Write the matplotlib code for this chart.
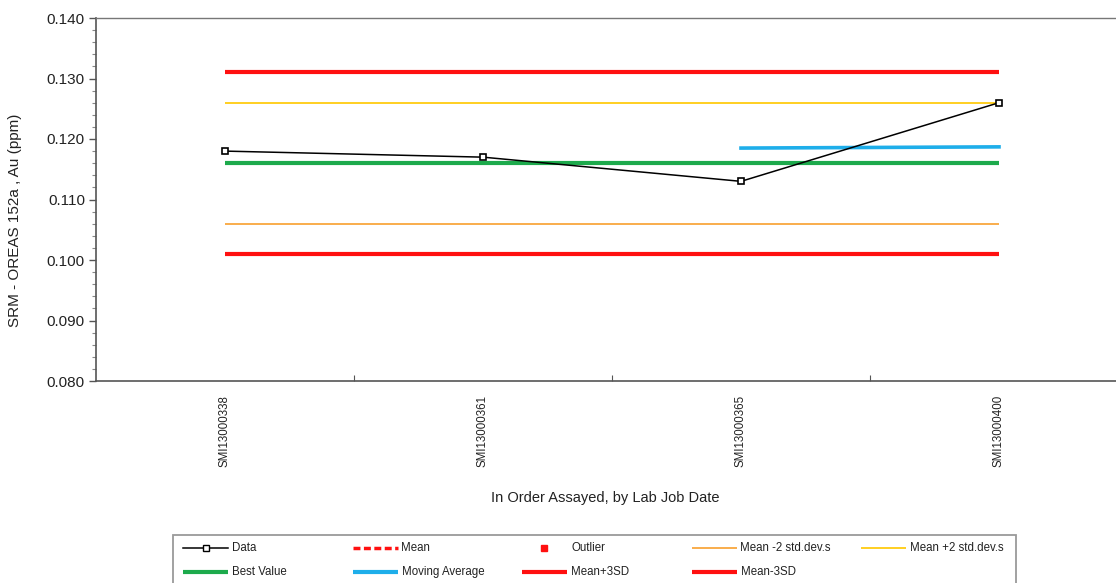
import matplotlib
matplotlib.use("Agg")
import matplotlib.pyplot as plt
from matplotlib.lines import Line2D
from matplotlib.patches import Rectangle
from matplotlib.ticker import MultipleLocator, FixedLocator, NullFormatter

plt.rcParams['font.family'] = ['Liberation Sans', 'DejaVu Sans']

# Assay data for the standard, in order assayed
job_ids = ["SMI13000338", "SMI13000361", "SMI13000365", "SMI13000400"]
au_ppm = [0.118, 0.117, 0.113, 0.126]

# Control limits
best_value = 0.116
mean_minus_2sd = 0.106
mean_plus_2sd = 0.126
mean_plus_3sd = 0.131
mean_minus_3sd = 0.101

# Moving average (defined from the third job onward)
ma_idx = [2, 3]
ma_values = [0.1185, 0.1187]

W, H = 1116, 583
fig = plt.figure(figsize=(W / 100, H / 100), dpi=100)
ax = fig.add_axes([96 / W, 1 - 381 / H, 1032 / W, 363 / H])

RED, YEL, ORA, GRN, BLU = '#FF1010', '#FFCC10', '#F9A73E', '#1DAA4C', '#1EAEEA'

x = list(range(len(job_ids)))
x_span = [x[0], x[-1]]

def hline(value, color, lw, z=2):
    ax.plot(x_span, [value, value], color=color, lw=lw, solid_capstyle='butt', zorder=z)

hline(mean_plus_3sd, RED, 3.0)
hline(mean_minus_3sd, RED, 3.0)
hline(mean_plus_2sd, YEL, 1.3)
hline(mean_minus_2sd, ORA, 1.3)
hline(best_value, GRN, 3.0)
ax.plot(ma_idx, ma_values, color=BLU, lw=2.6, zorder=3)
ax.plot(x, au_ppm, color='black', lw=1.1, marker='s', ms=5,
        mfc='white', mec='black', mew=1.2, zorder=4)

ax.set_xlim(-0.5, len(job_ids) - 0.5)
ax.set_ylim(0.080, 0.140)

ax.yaxis.set_major_locator(MultipleLocator(0.010))
ax.yaxis.set_minor_locator(MultipleLocator(0.002))
ax.yaxis.set_major_formatter(plt.FuncFormatter(lambda v, p: f"{v:.3f}"))
ax.tick_params(axis='y', which='major', direction='out', length=5, width=1,
               color='#555555', labelsize=11, pad=3, labelcolor='#222222')
ax.tick_params(axis='y', which='minor', direction='out', length=3, width=0.8,
               color='#888888')

ax.xaxis.set_major_locator(FixedLocator([i + 0.5 for i in x[:-1]]))
ax.xaxis.set_major_formatter(NullFormatter())
ax.xaxis.set_minor_locator(FixedLocator(x))
ax.set_xticklabels(job_ids, minor=True, rotation=90, fontsize=8.3, color='#222222')
ax.tick_params(axis='x', which='major', direction='in', length=4, color='#555555')
ax.tick_params(axis='x', which='minor', length=0, pad=10)

for side in ['left', 'bottom']:
    ax.spines[side].set_color('#555555')
    ax.spines[side].set_linewidth(1.2)
ax.spines['top'].set_color('#777777')
ax.spines['top'].set_linewidth(1.0)
ax.spines['right'].set_visible(False)

ax.set_ylabel("SRM - OREAS 152a , Au (ppm)", fontsize=11, color='#222222')
ax.yaxis.set_label_coords(-(96 - 22) / 1032, (381 - 220) / 363)
ax.set_xlabel("In Order Assayed, by Lab Job Date", fontsize=10.5, color='#222222')
ax.xaxis.set_label_coords((605 - 96) / 1032, -(498 - 381) / 363)
ax.xaxis.label.set_va('center')

# Legend: two rows, five equal-width columns, drawn in pixel coordinates
def fx(px):
    return px / W

def fy(py):
    return 1 - py / H

fig.patches.append(Rectangle((fx(173), fy(600)), fx(1016) - fx(173), fy(535) - fy(600),
                             transform=fig.transFigure, fill=False,
                             edgecolor='#9A9A9A', lw=1.3, zorder=5))

legend_entries = [
    # (row, col, label, style)
    (0, 0, "Data", dict(color='black', lw=1.1, marker='s', ms=4, mfc='white', mec='black')),
    (0, 1, "Mean", dict(color=RED, lw=2.5, ls=(0, (2, 1)))),
    (0, 2, "Outlier", None),
    (0, 3, "Mean -2 std.dev.s", dict(color=ORA, lw=1.3)),
    (0, 4, "Mean +2 std.dev.s", dict(color=YEL, lw=1.3)),
    (1, 0, "Best Value", dict(color=GRN, lw=3.0)),
    (1, 1, "Moving Average", dict(color=BLU, lw=3.0)),
    (1, 2, "Mean+3SD", dict(color=RED, lw=3.0)),
    (1, 3, "Mean-3SD", dict(color=RED, lw=3.0)),
]
col_x0, col_step, row_y0, row_step = 183, 169.5, 548, 24
for row, col, label, style in legend_entries:
    x0 = col_x0 + col_step * col
    y0 = row_y0 + row_step * row
    if style is None:
        fig.lines.append(Line2D([fx(x0 + 22)], [fy(y0)], transform=fig.transFigure,
                                lw=0, marker='s', ms=4.5, color=RED))
    else:
        if 'marker' in style:
            fig.lines.append(Line2D([fx(x0), fx(x0 + 45)], [fy(y0), fy(y0)],
                                    transform=fig.transFigure,
                                    color=style['color'], lw=style['lw']))
            fig.lines.append(Line2D([fx(x0 + 22.5)], [fy(y0)], transform=fig.transFigure,
                                    lw=0, marker='s', ms=4, mfc='white', mec='black'))
        else:
            fig.lines.append(Line2D([fx(x0), fx(x0 + 45)], [fy(y0), fy(y0)],
                                    transform=fig.transFigure, solid_capstyle='butt',
                                    **style))
    fig.text(fx(x0 + 49), fy(y0), label, fontsize=8.3, color='#222222',
             ha='left', va='center')

fig.savefig("out.png", dpi=100)
